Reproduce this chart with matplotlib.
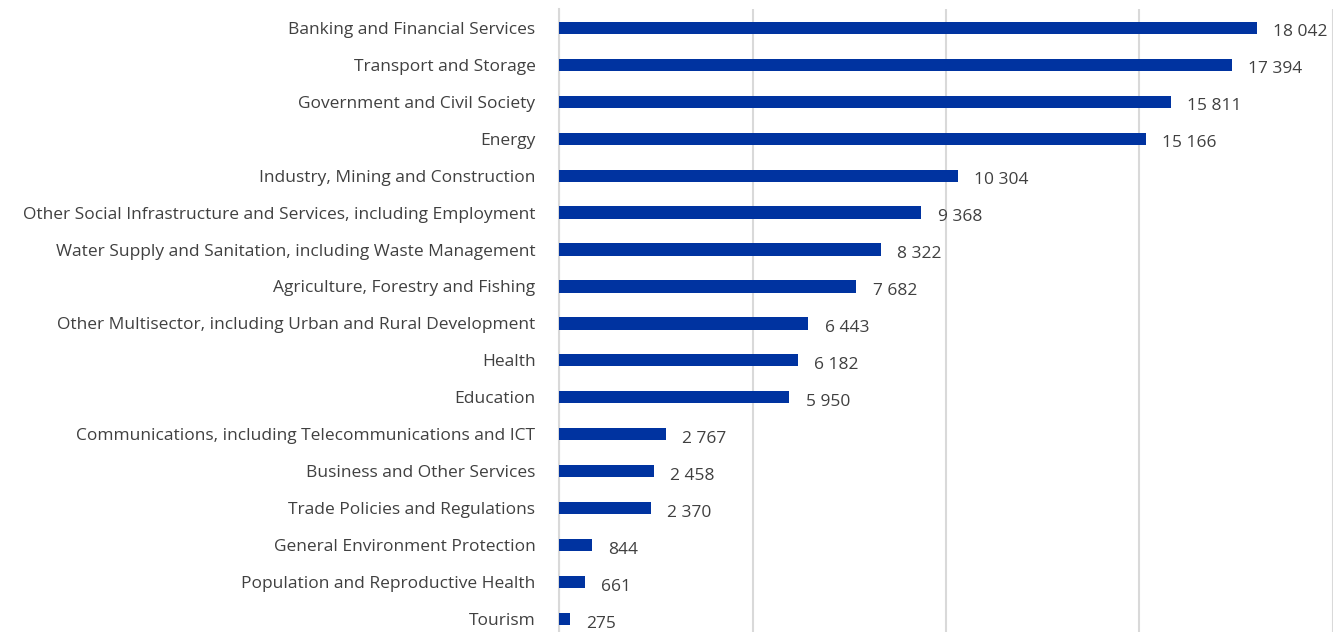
import matplotlib.pyplot as plt

# Sector names and values (top to bottom)
sectors = [
    'Banking and Financial Services',
    'Transport and Storage',
    'Government and Civil Society',
    'Energy',
    'Industry, Mining and Construction',
    'Other Social Infrastructure and Services, including Employment',
    'Water Supply and Sanitation, including Waste Management',
    'Agriculture, Forestry and Fishing',
    'Other Multisector, including Urban and Rural Development',
    'Health',
    'Education',
    'Communications, including Telecommunications and ICT',
    'Business and Other Services',
    'Trade Policies and Regulations',
    'General Environment Protection',
    'Population and Reproductive Health',
    'Tourism',
]
values = [18042, 17394, 15811, 15166, 10304, 9368, 8322, 7682, 6443,
          6182, 5950, 2767, 2458, 2370, 844, 661, 275]

plt.rcParams['font.family'] = ['Open Sans', 'DejaVu Sans']

fig = plt.figure(figsize=(13.41, 6.32), dpi=100)
ax = fig.add_axes([0.4169, 0.0, 0.577, 0.9858])

pos = list(range(len(sectors)))
ax.barh(pos, values, height=0.33, color='#0033A0', zorder=3)

for p, v in zip(pos, values):
    label = f'{v:,}'.replace(',', ' ')
    ax.text(v + 420, p + 0.12, label, va='center', ha='left',
            fontsize=12.5, color='#404040')

ax.set_xlim(0, 20000)
ax.set_ylim(16.35, -0.51)
ax.set_xticks([0, 5000, 10000, 15000, 20000])
ax.set_xticklabels([])
ax.grid(axis='x', color='#d9d9d9', linewidth=1.5, zorder=0)
ax.set_yticks(pos)
ax.set_yticklabels(sectors, fontsize=12.5, color='#404040')
ax.tick_params(axis='both', length=0)
ax.tick_params(axis='y', pad=17)
for s in ['top', 'right', 'bottom']:
    ax.spines[s].set_visible(False)
ax.spines['left'].set_color('#d9d9d9')
ax.spines['left'].set_linewidth(1.5)

fig.savefig('out.png', dpi=100)
